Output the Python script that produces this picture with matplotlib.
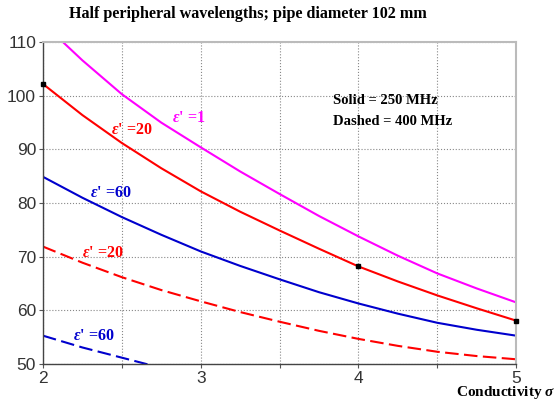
#!/usr/bin/env python3
"""Half peripheral wavelengths vs conductivity, pipe diameter 102 mm."""

import numpy as np
import matplotlib.pyplot as plt

plt.rcParams['mathtext.fontset'] = 'custom'
plt.rcParams['mathtext.it'] = 'Liberation Serif:italic:bold'
plt.rcParams['mathtext.rm'] = 'Liberation Serif:bold'

# conductivity sampled every 0.25
sigma = [2.0, 2.25, 2.5, 2.75, 3.0, 3.25, 3.5, 3.75, 4.0, 4.25, 4.5, 4.75, 5.0]

# solid = 250 MHz
eps1_250 = [113.5, 106.6, 100.3, 95.0, 90.4, 85.9, 81.7, 77.6, 73.8, 70.2, 66.9, 64.1, 61.5]
eps20_250 = [102.2, 96.4, 91.2, 86.5, 82.2, 78.4, 74.9, 71.5, 68.2, 65.4, 62.8, 60.4, 58.1]
eps60_250 = [84.9, 81.0, 77.4, 74.1, 71.0, 68.3, 65.8, 63.4, 61.3, 59.4, 57.7, 56.4, 55.3]

# dashed = 400 MHz
eps20_400 = [71.9, 68.9, 66.2, 63.8, 61.7, 59.7, 57.9, 56.2, 54.7, 53.4, 52.3, 51.5, 50.9]
sigma_60_400 = [2.0, 2.25, 2.5, 2.75, 3.0]
eps60_400 = [55.3, 53.1, 51.2, 49.3, 47.6]

# highlighted points on the eps'=20 curve
mark_x = [2.0, 4.0, 5.0]
mark_y = [102.2, 68.2, 58.1]

xticks = [2.0, 2.5, 3.0, 3.5, 4.0, 4.5, 5.0]
xticklabels = ['2', '', '3', '', '4', '', '5']
yticks = [50, 60, 70, 80, 90, 100, 110]

MAGENTA = '#FF00FF'
RED = '#FF0000'
BLUE = '#0000CD'

fig = plt.figure(figsize=(5.58, 4.01), dpi=100)
ax = fig.add_axes([0.077, 0.092, 0.848, 0.803])

lw = 1.5
ax.plot(sigma, eps1_250, color=MAGENTA, lw=lw)
ax.plot(sigma, eps20_250, color=RED, lw=lw)
ax.plot(sigma, eps60_250, color=BLUE, lw=lw)
ax.plot(sigma, eps20_400, color=RED, lw=lw, dashes=(6.5, 2.6))
ax.plot(sigma_60_400, eps60_400, color=BLUE, lw=lw, dashes=(6.5, 2.6))
ax.plot(mark_x, mark_y, ls='none', marker='s', ms=2.5, color='black', clip_on=False, zorder=5)

ax.set_xlim(2, 5)
ax.set_ylim(50, 110)
ax.set_xticks(xticks)
ax.set_xticklabels(xticklabels)
ax.set_yticks(yticks)
ax.tick_params(labelsize=12.5, labelcolor='#333333', length=3, color='#555555',
               pad=2)
for lab in ax.get_xticklabels() + ax.get_yticklabels():
    lab.set_family('Liberation Sans')

ax.grid(True, ls=':', color='#888888', lw=0.8)
for s in ['left', 'bottom']:
    ax.spines[s].set_color('#444444')
    ax.spines[s].set_linewidth(1.0)
for s in ['top', 'right']:
    ax.spines[s].set_color('#BBBBBB')
    ax.spines[s].set_linewidth(1.5)

serif = 'Liberation Serif'
lab_kw = dict(fontsize=11.5, fontweight='bold', family=serif, ha='left', va='center')
ax.text(2.82, 95.8, r"$\varepsilon$' =1", color=MAGENTA, **lab_kw)
ax.text(2.43, 93.6, r"$\varepsilon$' =20", color=RED, **lab_kw)
ax.text(2.30, 81.8, r"$\varepsilon$' =60", color=BLUE, **lab_kw)
ax.text(2.25, 70.7, r"$\varepsilon$' =20", color=RED, **lab_kw)
ax.text(2.19, 55.2, r"$\varepsilon$' =60", color=BLUE, **lab_kw)

note_kw = dict(fontsize=10.5, fontweight='bold', family=serif, ha='left', va='center',
               transform=ax.transAxes)
ax.text(0.613, 0.818, 'Solid = 250 MHz', **note_kw)
ax.text(0.613, 0.753, 'Dashed = 400 MHz', **note_kw)

fig.text(0.445, 0.965, 'Half peripheral wavelengths; pipe diameter 102 mm',
         ha='center', va='center', fontsize=11.6, fontweight='bold', family=serif)
fig.text(0.995, 0.02, r'Conductivity $\sigma$', ha='right', va='center',
         fontsize=11, fontweight='bold', family=serif)

fig.savefig('out.png', dpi=100)
